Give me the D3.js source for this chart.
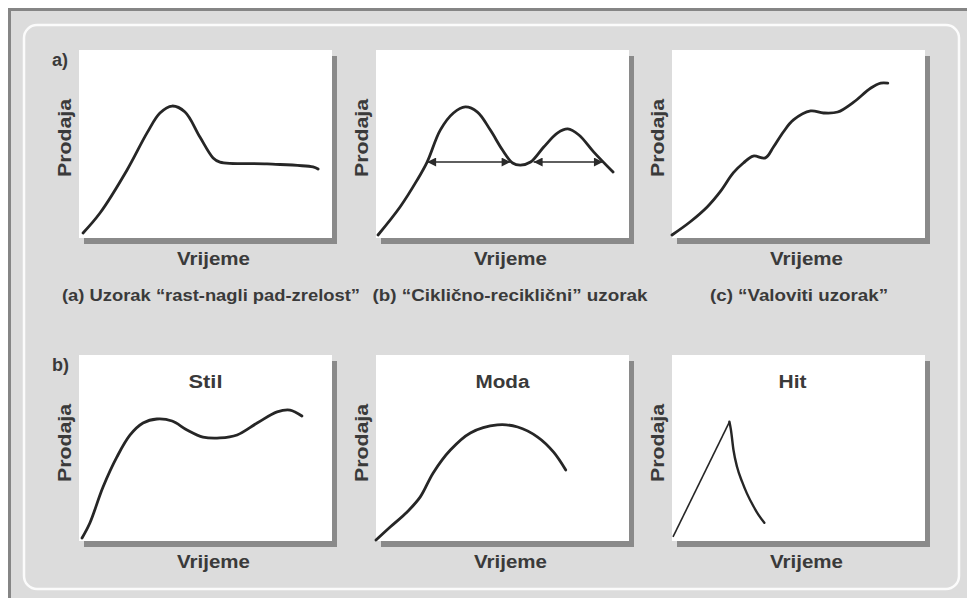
<!DOCTYPE html>
<html>
<head>
<meta charset="utf-8">
<script src="https://cdn.jsdelivr.net/npm/d3@7"></script>
<style>
  html, body { margin: 0; padding: 0; background: #fff; }
  svg text { font-family: "Liberation Sans", Arial, sans-serif; font-weight: bold; fill: #3a3a3a; }
</style>
</head>
<body>
<div id="chart"></div>
<script>
// Sales (Prodaja) against time (Vrijeme) on a 0-100 scale

// (a) rast-nagli pad-zrelost
var rastTime  = [1.6, 8.3, 19.0, 26.9, 32.0, 36.8, 41.9, 47.8, 53.0, 55.7, 74.3, 92.5, 94.5];
var rastSales = [2.7, 13.3, 36.2, 55.9, 66.5, 70.2, 67.0, 53.7, 42.6, 40.4, 39.4, 37.8, 36.7];

// (b) ciklicno-reciklicni
var cikTime  = [0.8, 9.5, 16.3, 20.2, 25.4, 30.6, 35.3, 40.1, 45.2, 50.0, 54.0, 57.1, 61.1, 66.3, 71.8, 75.8, 80.2, 86.1, 93.7];
var cikSales = [1.6, 16.5, 30.9, 40.4, 57.4, 66.5, 69.7, 67.0, 57.4, 46.8, 39.9, 38.8, 40.4, 48.4, 55.9, 58.0, 54.8, 45.7, 35.1];
// the two cycle arrows: [from, to] time at one sales level
var cikArrows = [[20.2, 53.2], [62.3, 89.7]];
var cikArrowSales = 40.4;

// (c) valoviti
var valTime  = [0, 7.1, 13.9, 19.0, 24.2, 28.2, 32.1, 36.9, 40.1, 44.0, 48.0, 54.8, 59.9, 65.5, 71.8, 78.6, 82.5, 85.3];
var valSales = [1.6, 8.5, 16.5, 24.5, 34.6, 39.9, 43.6, 42.6, 48.4, 56.4, 62.8, 67.6, 66.5, 67.0, 72.3, 79.8, 82.4, 82.4];

// Stil
var stilTime  = [1.2, 4.3, 9.5, 15.0, 20.2, 25.3, 30.8, 36.8, 42.7, 49.0, 55.7, 62.5, 70.4, 78.3, 83.4, 88.1];
var stilSales = [1.6, 9.7, 29.0, 45.2, 57.0, 63.4, 65.6, 64.5, 59.7, 55.9, 55.4, 57.0, 63.4, 69.4, 70.4, 67.2];

// Moda
var modaTime  = [0, 5.6, 12.3, 17.5, 22.6, 29.4, 37.3, 48.0, 56.0, 63.9, 70.2, 75.0];
var modaSales = [0.5, 7.5, 15.6, 23.7, 36.6, 48.9, 58.1, 62.4, 61.3, 55.9, 47.8, 38.2];

// Hit: straight rise, then a curved fall
var hitRiseTime  = [0.4, 22.7];
var hitRiseSales = [2.2, 64.1];
var hitFallTime  = [22.7, 23.3, 24.3, 25.7, 27.7, 29.6, 32.3, 34.2, 36.5];
var hitFallSales = [64.1, 59.7, 48.9, 39.9, 31.9, 25.6, 18.4, 14.0, 9.8];

// texts
var yLabel = "Prodaja";
var xLabel = "Vrijeme";
var rowLabels = ["a)", "b)"];
var captions = ["(a) Uzorak \u201Crast-nagli pad-zrelost\u201D", "(b) \u201CCiklično-reciklični\u201D uzorak", "(c) \u201CValoviti uzorak\u201D"];
var titles = ["Stil", "Moda", "Hit"];

function zip(xs, ys) { return xs.map(function (x, i) { return [x, ys[i]]; }); }

///////////////////////////////////////////////////////////////////////////
var width = 967, height = 598;

var svg = d3.select("#chart").append("svg")
    .attr("width", width)
    .attr("height", height);

var defs = svg.append("defs");
defs.append("marker")
    .attr("id", "arrow")
    .attr("viewBox", "0 0 10 10")
    .attr("refX", 10).attr("refY", 5)
    .attr("markerWidth", 12).attr("markerHeight", 9)
    .attr("markerUnits", "userSpaceOnUse")
    .attr("orient", "auto-start-reverse")
    .append("path")
    .attr("d", "M0,0 L10,5 L0,10 Z")
    .attr("fill", "#2a2a2a");

// outer frame
svg.append("rect")
    .attr("x", 9.5).attr("y", 9.5)
    .attr("width", width + 20).attr("height", height + 20)
    .attr("fill", "#dcdcdc")
    .attr("stroke", "#858585")
    .attr("stroke-width", 3);

// inner rounded frame
svg.append("rect")
    .attr("x", 24).attr("y", 25)
    .attr("width", 935).attr("height", 564)
    .attr("rx", 13)
    .attr("fill", "none")
    .attr("stroke", "#fbfbfb")
    .attr("stroke-width", 2.5);

// panel boxes (layout)
var colX = [79, 376, 672];
var boxW = 253;
var rowY = [50, 355];
var boxH = [188, 186];

var panels = [
  { col: 0, row: 0, series: [zip(rastTime, rastSales)] },
  { col: 1, row: 0, series: [zip(cikTime, cikSales)], arrows: true },
  { col: 2, row: 0, series: [zip(valTime, valSales)] },
  { col: 0, row: 1, series: [zip(stilTime, stilSales)], title: titles[0], titleW: 34 },
  { col: 1, row: 1, series: [zip(modaTime, modaSales)], title: titles[1], titleW: 54 },
  { col: 2, row: 1, fall: zip(hitFallTime, hitFallSales), rise: zip(hitRiseTime, hitRiseSales), title: titles[2], titleW: 28 }
];

panels.forEach(function (p) {
  var x0 = colX[p.col], y0 = rowY[p.row], h = boxH[p.row];
  var g = svg.append("g");

  var x = d3.scaleLinear().domain([0, 100]).range([x0, x0 + boxW]);
  var y = d3.scaleLinear().domain([0, 100]).range([y0 + h, y0]);

  // shadow and white box
  g.append("rect")
      .attr("x", x0 + 5).attr("y", y0 + 6)
      .attr("width", boxW).attr("height", h)
      .attr("fill", "#8a8a8a");
  g.append("rect")
      .attr("x", x0).attr("y", y0)
      .attr("width", boxW).attr("height", h)
      .attr("fill", "#fff");

  var line = d3.line()
      .x(function (d) { return x(d[0]); })
      .y(function (d) { return y(d[1]); })
      .curve(d3.curveCatmullRom.alpha(0.5));

  (p.series || []).forEach(function (s) {
    g.append("path")
        .attr("d", line(s))
        .attr("fill", "none")
        .attr("stroke", "#262626")
        .attr("stroke-width", 2.8)
        .attr("stroke-linecap", "round")
        .attr("stroke-linejoin", "round");
  });

  if (p.rise) {
    g.append("path")
        .attr("d", d3.line().x(function (d) { return x(d[0]); }).y(function (d) { return y(d[1]); })(p.rise))
        .attr("fill", "none")
        .attr("stroke", "#262626")
        .attr("stroke-width", 1.6);
  }
  if (p.fall) {
    g.append("path")
        .attr("d", line.curve(d3.curveMonotoneX)(p.fall))
        .attr("fill", "none")
        .attr("stroke", "#262626")
        .attr("stroke-width", 2.4)
        .attr("stroke-linecap", "round");
  }

  if (p.arrows) {
    g.selectAll(".cycle")
        .data(cikArrows)
        .enter().append("line")
        .attr("class", "cycle")
        .attr("x1", function (d) { return x(d[0]); })
        .attr("x2", function (d) { return x(d[1]); })
        .attr("y1", y(cikArrowSales))
        .attr("y2", y(cikArrowSales))
        .attr("stroke", "#2a2a2a")
        .attr("stroke-width", 1.6)
        .attr("marker-start", "url(#arrow)")
        .attr("marker-end", "url(#arrow)");
  }

  if (p.title) {
    g.append("text")
        .attr("x", x0 + boxW / 2 + (p.col === 2 ? -6 : 0))
        .attr("y", y0 + 33)
        .attr("text-anchor", "middle")
        .attr("textLength", p.titleW)
        .attr("lengthAdjust", "spacingAndGlyphs")
        .style("font-size", "18px")
        .text(p.title);
  }

  // axis labels
  g.append("text")
      .attr("transform", "translate(" + (x0 - 8) + "," + (y0 + h / 2 + (p.row ? -5 : -6)) + ") rotate(-90)")
      .attr("text-anchor", "middle")
      .attr("textLength", 78)
      .attr("lengthAdjust", "spacingAndGlyphs")
      .style("font-size", "18px")
      .text(yLabel);
  g.append("text")
      .attr("x", x0 + boxW / 2 + 8)
      .attr("y", y0 + h + 27)
      .attr("text-anchor", "middle")
      .attr("textLength", 73)
      .attr("lengthAdjust", "spacingAndGlyphs")
      .style("font-size", "18px")
      .text(xLabel);
});

// row letters
svg.selectAll(".rowlab")
    .data(rowLabels)
    .enter().append("text")
    .attr("class", "rowlab")
    .attr("x", 52)
    .attr("y", function (d, i) { return rowY[i] + 16; })
    .style("font-size", "18px")
    .text(function (d) { return d; });

// captions under the top row
var capCenters = [211, 510, 799];
var capWidths = [298, 275, 178];
svg.selectAll(".caption")
    .data(captions)
    .enter().append("text")
    .attr("class", "caption")
    .attr("x", function (d, i) { return capCenters[i]; })
    .attr("y", 301)
    .attr("text-anchor", "middle")
    .attr("textLength", function (d, i) { return capWidths[i]; })
    .attr("lengthAdjust", "spacingAndGlyphs")
    .style("font-size", "16px")
    .text(function (d) { return d; });
</script>
</body>
</html>
